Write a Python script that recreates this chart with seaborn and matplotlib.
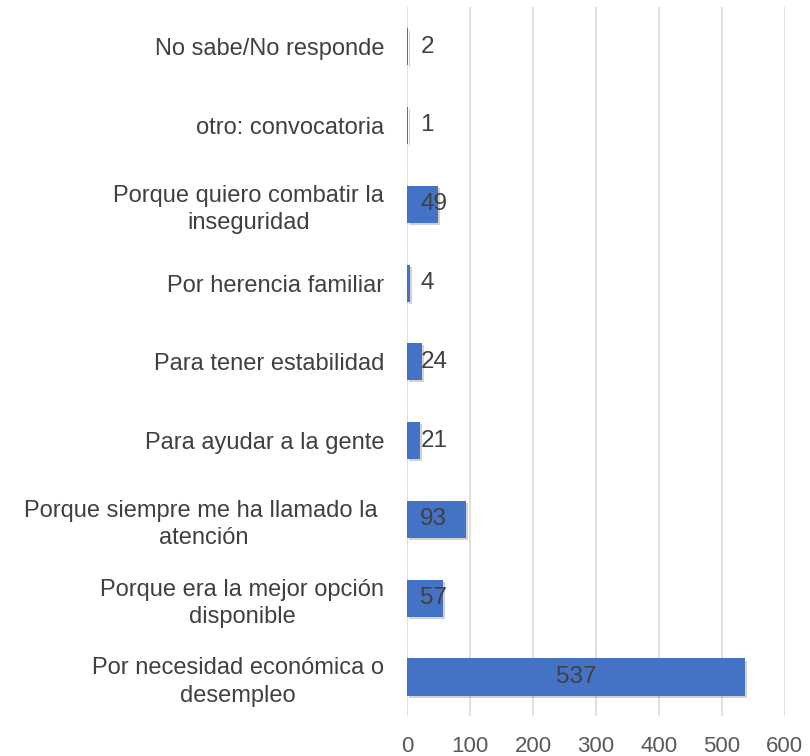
import numpy as np
import pandas as pd
import seaborn as sns
import matplotlib.pyplot as plt
import matplotlib.patheffects as pe

# Data (top to bottom as in the chart)
motivos = ['No sabe/No responde',
           'otro: convocatoria',
           'Porque quiero combatir la\ninseguridad',
           'Por herencia familiar',
           'Para tener estabilidad',
           'Para ayudar a la gente',
           'Porque siempre me ha llamado la \natención',
           'Porque era la mejor opción\ndisponible',
           'Por necesidad económica o\ndesempleo']
valores = [2, 1, 49, 4, 24, 21, 93, 57, 537]
xticks = [0, 100, 200, 300, 400, 500, 600]

df = pd.DataFrame({'motivo': motivos, 'valor': valores})

sns.set_style('white')
plt.rcParams['font.family'] = ['Liberation Sans', 'DejaVu Sans']

fig = plt.figure(figsize=(8.1, 7.56), dpi=100)
ax = fig.add_axes([0.5025, 0.0524, 0.4665, 0.938])

sns.barplot(data=df, x='valor', y='motivo', orient='h', color='#4472C4',
            saturation=1, width=0.47, linewidth=0, ax=ax)

# soft shadow like the original 3D-ish bars
for bar in ax.patches:
    bar.set_path_effects([pe.SimplePatchShadow(offset=(1.5, -1.5), shadow_rgbFace='#808080', alpha=0.35),
                          pe.Normal()])
    bar.set_zorder(3)

# data labels
for i, v in enumerate(valores):
    if v > 100:
        ax.text(v / 2, i, str(v), ha='center', va='center', fontsize=17.5, color='#404040', zorder=4)
    else:
        ax.text(21, i, str(v), ha='left', va='center', fontsize=17.5, color='#404040', zorder=4)

ax.set_xlim(0, 600)
ax.set_ylim(8.5, -0.5)
ax.set_xticks(xticks)
ax.grid(axis='x', color='#d9d9d9', linewidth=1.2, zorder=0)
ax.set_axisbelow(True)
for s in ax.spines.values():
    s.set_visible(False)

ax.tick_params(axis='x', length=0, pad=14, labelsize=16, labelcolor='#595959')
ax.tick_params(axis='y', length=0, pad=16.5, labelsize=17, labelcolor='#404040')
for lab in ax.get_yticklabels():
    lab.set_multialignment('center')
    lab.set_linespacing(1.3)
ax.set_xlabel('')
ax.set_ylabel('')

fig.savefig('out.png', dpi=100)
